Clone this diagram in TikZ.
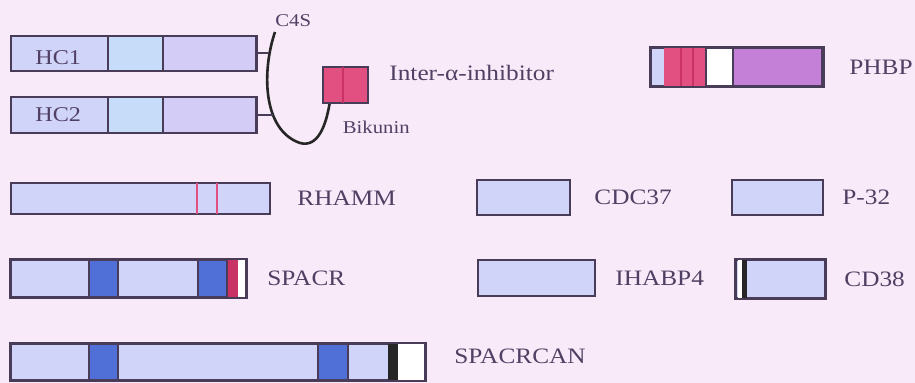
\documentclass[tikz,border=0pt]{standalone}
\usepackage{fontspec}
\setmainfont[FakeStretch=1.15]{Liberation Serif}
\usetikzlibrary{positioning}
\definecolor{protbg}{RGB}{248,234,248}
\definecolor{protline}{RGB}{72,60,88}
\definecolor{prottext}{RGB}{80,64,100}
\definecolor{protlight}{RGB}{208,212,248}
\definecolor{protmid}{RGB}{198,220,248}
\definecolor{protlav}{RGB}{210,204,246}
\definecolor{protblue}{RGB}{80,112,216}
\definecolor{protpink}{RGB}{226,80,130}
\definecolor{protred}{RGB}{200,50,100}
\definecolor{protpurple}{RGB}{196,128,214}

\begin{document}
\begin{tikzpicture}[
  x=0.5pt,y=-0.5pt,
  prot/.style={draw=protline,line width=1pt,fill=protlight,anchor=west,inner sep=0pt},
  seg/.style={draw=protline,line width=0.8pt},
  edge/.style={draw=protline,line width=1pt},
  lbl/.style={inner sep=0pt,text=prottext,font=\fontsize{11}{13}\selectfont},
  smalllbl/.style={lbl,font=\fontsize{9}{11}\selectfont},
  link/.style={draw=black!85,line width=1.3pt}
]
\fill[protbg] (0,0) rectangle (915,383);
\useasboundingbox (0,0) rectangle (915,383);

% inter-alpha-inhibitor
\node[prot,minimum width=123pt,minimum height=17.5pt] (hc1) at (10,53.5) {};
\node[prot,minimum width=123pt,minimum height=18pt] (hc2) at (10,115) {};
\filldraw[seg,fill=protmid] (108,36) rectangle (163,71);
\filldraw[seg,fill=protlav] (163,36) rectangle (256,71);
\filldraw[seg,fill=protmid] (108,97) rectangle (163,133);
\filldraw[seg,fill=protlav] (163,97) rectangle (256,133);
\node[lbl,font=\fontsize{10.5}{12}\selectfont,right=12.5pt of hc1.west,yshift=-2pt] (hc1lbl) {HC1};
\node[lbl,font=\fontsize{10.5}{12}\selectfont,right=12.5pt of hc2.west] (hc2lbl) {HC2};
\node[prot,fill=protpink,minimum width=22.5pt,minimum height=18pt] (bik) at (322,85) {};
\draw[seg,draw=protred] (343,67) -- (343,103);
\coordinate (ctop) at (275,32);
\coordinate (s1) at (269,52);
\coordinate (s2) at (273,115);
\draw[link] (ctop) .. controls (262,70) and (262,130) .. (300,143)
  .. controls (318,148) and (326,125) .. ([xshift=-8pt]bik.south);
\draw[edge] (hc1.east) -- (hc1.east -| s1);
\draw[edge] (hc2.east) -- (hc2.east -| s2);
\node[smalllbl,anchor=south west,yshift=2.5pt] (c4s) at (ctop) {C4S};
\node[smalllbl,anchor=north west,xshift=-1.5pt,yshift=-8.5pt] (biklbl) at (bik.south) {Bikunin};
\node[lbl,right=10pt of bik,yshift=6pt] (ilbl) {Inter-α-inhibitor};

% PHBP
\node[prot,minimum width=86pt,minimum height=19pt] (phbp) at (650,67) {};
\fill[protpink] (664,48) rectangle (706,86);
\draw[protred,line width=0.8pt] (681,48) -- (681,86) (693,48) -- (693,86);
\filldraw[seg,fill=white] (706,48) rectangle (733,86);
\filldraw[seg,fill=protpurple] (733,48) rectangle (822,86);
\draw[edge] (phbp.north west) rectangle (phbp.south east);
\node[lbl,right=12.5pt of phbp] (phbplbl) {PHBP};

% second row
\node[prot,minimum width=129.5pt,minimum height=15.5pt] (rhamm) at (10,198.5) {};
\draw[protpink,line width=1pt] (197,183) -- (197,214) (217,183) -- (217,214);
\node[lbl,right=13pt of rhamm] (rhammlbl) {RHAMM};
\node[prot,minimum width=46.5pt,minimum height=17.5pt] (cdc37) at (476,197.5) {};
\node[lbl,right=11.5pt of cdc37] (cdc37lbl) {CDC37};
\node[prot,minimum width=45.5pt,minimum height=17.5pt] (p32) at (731,197.5) {};
\node[lbl,right=9pt of p32] (p32lbl) {P-32};

% third row
\node[prot,minimum width=117.5pt,minimum height=18.5pt] (spacr) at (10,278.5) {};
\filldraw[seg,fill=protblue] (89,260) rectangle (118,297);
\filldraw[seg,fill=protblue] (198,260) rectangle (227,297);
\fill[protred] (228,260) rectangle (238,297);
\fill[white] (238,260) rectangle (245,297);
\draw[edge] (spacr.north west) rectangle (spacr.south east);
\node[lbl,right=10pt of spacr] (spacrlbl) {SPACR};
\node[prot,minimum width=58.5pt,minimum height=18pt] (ihabp4) at (477,278) {};
\node[lbl,right=9.5pt of ihabp4] (ihabp4lbl) {IHABP4};
\node[prot,minimum width=44.5pt,minimum height=19pt] (cd38) at (735,279) {};
\fill[white] (738,260) rectangle (742,298);
\fill[black!85] (742,260) rectangle (747,298);
\draw[edge] (cd38.north west) rectangle (cd38.south east);
\node[lbl,right=9pt of cd38] (cd38lbl) {CD38};

% fourth row
\node[prot,minimum width=207pt,minimum height=18pt] (spacrcan) at (10,362) {};
\filldraw[seg,fill=protblue] (89,344) rectangle (118,380);
\filldraw[seg,fill=protblue] (318,344) rectangle (348,380);
\fill[black!85] (388,344) rectangle (398,380);
\fill[white] (398,344) rectangle (424,380);
\draw[edge] (spacrcan.north west) rectangle (spacrcan.south east);
\node[lbl,right=14pt of spacrcan,yshift=3pt] (spacrcanlbl) {SPACRCAN};
\end{tikzpicture}
\end{document}
